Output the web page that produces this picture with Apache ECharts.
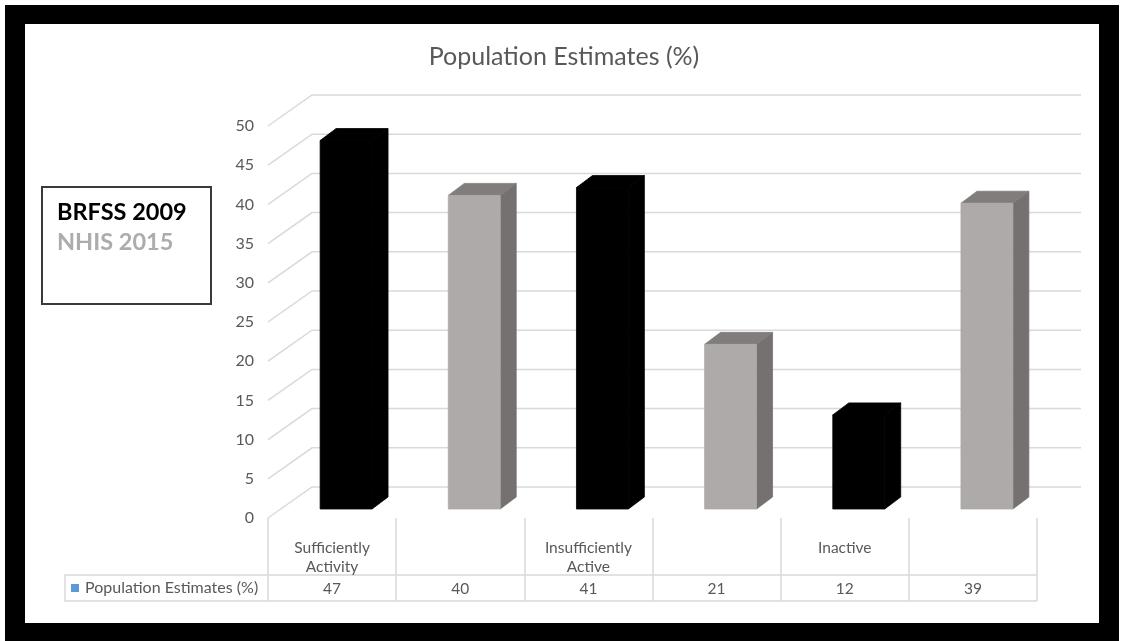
<!DOCTYPE html>
<html>
<head>
<meta charset="utf-8">
<script src="https://cdn.jsdelivr.net/npm/echarts@6/dist/echarts.min.js"></script>
<style>
html,body{margin:0;padding:0;background:#fff;}
#chart{width:1128px;height:641px;}
</style>
</head>
<body>
<div id="chart"></div>
<script>
var categories = ['Sufficiently\nActivity', '', 'Insufficiently\nActive', '', 'Inactive', ''];
var values = [47, 40, 41, 21, 12, 39];
var sources = ['BRFSS 2009', 'NHIS 2015', 'BRFSS 2009', 'NHIS 2015', 'BRFSS 2009', 'NHIS 2015'];
var seriesNames = ['BRFSS 2009', 'NHIS 2015'];
var tableName = 'Population Estimates (%)';
var yTicks = [0, 5, 10, 15, 20, 25, 30, 35, 40, 45, 50];

var FONT = 'Lato';
var TXT = '#595959';
var GRIDC = '#d9d9d9';
var faceColors = {
  'BRFSS 2009': {front: '#000000', side: '#000000', top: '#000000'},
  'NHIS 2015': {front: '#AEAAAA', side: '#757171', top: '#827D7D'}
};
var legendText = {'BRFSS 2009': '#000000', 'NHIS 2015': '#AEABAB'};

var chart = echarts.init(document.getElementById('chart'), null, {renderer: 'canvas'});

var DEPTH_X = 44, DEPTH_Y = -31;

var option = {
  animation: false,
  backgroundColor: '#ffffff',
  title: {
    text: tableName,
    left: 'center',
    top: 39,
    textStyle: {fontFamily: FONT, fontSize: 25, fontWeight: 'normal', color: TXT}
  },
  grid: {left: 268, right: 91, top: 126, bottom: 123},
  xAxis: {
    type: 'category',
    data: categories,
    boundaryGap: true,
    axisLine: {show: false},
    axisTick: {show: true, length: 83, lineStyle: {color: GRIDC, width: 1.5}},
    axisLabel: {interval: 0, margin: 20, fontFamily: FONT, fontSize: 15.5, lineHeight: 19.5, color: TXT}
  },
  yAxis: {
    type: 'value',
    min: 0, max: 50, interval: 5,
    axisLine: {show: false},
    axisTick: {show: false},
    splitLine: {show: false},
    axisLabel: {margin: 14, fontFamily: FONT, fontSize: 16, color: TXT}
  },
  graphic: [
    {type: 'rect', z: -100, shape: {x: 5, y: 5, width: 1114, height: 650}, style: {fill: '#000'}, silent: true},
    {type: 'rect', z: -99, shape: {x: 25, y: 24, width: 1074, height: 599}, style: {fill: '#fff'}, silent: true},
    {type: 'rect', shape: {x: 42, y: 187, width: 169, height: 117}, style: {fill: '#fff', stroke: '#3a3a3a', lineWidth: 2}},
    {type: 'text', x: 57, y: 212, style: {text: seriesNames[0], fill: legendText[seriesNames[0]], font: 'bold 23.5px ' + FONT, verticalAlign: 'middle'}},
    {type: 'text', x: 57, y: 242, style: {text: seriesNames[1], fill: legendText[seriesNames[1]], font: 'bold 23.5px ' + FONT, verticalAlign: 'middle'}},
    {type: 'polyline', shape: {points: [[1037, 575], [65, 575], [65, 601], [1037, 601]]}, style: {stroke: GRIDC, lineWidth: 1.5, fill: null}},
    {type: 'rect', shape: {x: 71, y: 584, width: 8, height: 8}, style: {fill: '#5B9BD5'}},
    {type: 'text', x: 85, y: 588, style: {text: tableName, fill: TXT, font: '16px ' + FONT, verticalAlign: 'middle'}}
  ],
  series: [
    {
      type: 'custom',
      name: 'walls',
      silent: true,
      clip: false,
      z: 1,
      data: yTicks.map(function (v) { return [0, v]; }),
      renderItem: function (params, api) {
        var cs = params.coordSys;
        var y = api.coord([0, api.value(1)])[1];
        return {
          type: 'polyline',
          shape: {points: [[cs.x, y], [cs.x + DEPTH_X, y + DEPTH_Y], [cs.x + cs.width + DEPTH_X, y + DEPTH_Y]]},
          style: {stroke: GRIDC, lineWidth: 1.5, fill: null}
        };
      }
    },
    {
      type: 'custom',
      name: 'Population Estimates (%)',
      clip: false,
      z: 3,
      data: values.map(function (v, i) { return [i, v]; }),
      renderItem: function (params, api) {
        var i = api.value(0), v = api.value(1);
        var c0 = api.coord([i, 0]);
        var c1 = api.coord([i, v]);
        var w = api.size([1, 0])[0] * 0.405;
        var cx = c0[0] + 14;
        var yb = c0[1] - 9, yt = c1[1] - 9;
        var l = cx - w / 2, r = cx + w / 2;
        var dx = 16, dy = -12;
        var col = faceColors[sources[params.dataIndex]];
        return {
          type: 'group',
          children: [
            {type: 'polygon', shape: {points: [[r, yb], [r + dx, yb + dy], [r + dx, yt + dy], [r, yt]]}, style: {fill: col.side, stroke: col.side, lineWidth: 0.8, lineJoin: 'round'}},
            {type: 'polygon', shape: {points: [[l, yt], [l + dx, yt + dy], [r + dx, yt + dy], [r, yt]]}, style: {fill: col.top, stroke: col.top, lineWidth: 0.8, lineJoin: 'round'}},
            {type: 'rect', shape: {x: l, y: yt, width: w, height: yb - yt}, style: {fill: col.front, stroke: col.front, lineWidth: 0.8}}
          ]
        };
      }
    },
    {
      type: 'custom',
      name: 'table',
      silent: true,
      clip: false,
      z: 3,
      data: values.map(function (v, i) { return [i, v]; }),
      renderItem: function (params, api) {
        var cs = params.coordSys;
        var x = api.coord([api.value(0), 0])[0];
        return {
          type: 'text',
          x: x,
          y: cs.y + cs.height + 71,
          style: {text: String(api.value(1)), fill: TXT, font: '15.5px ' + FONT, align: 'center', verticalAlign: 'middle'}
        };
      }
    }
  ]
};
chart.setOption(option);
</script>
</body>
</html>
